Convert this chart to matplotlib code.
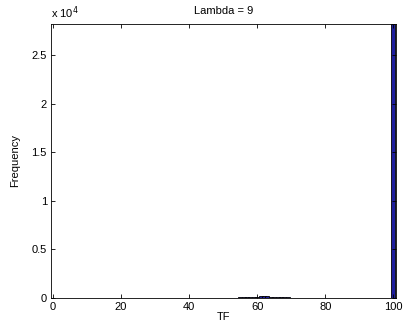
import numpy as np
import matplotlib
matplotlib.use('Agg')
import matplotlib.pyplot as plt

# TF histogram: bin centres and counts
tf_bins = [48, 50, 52, 53, 54, 55, 56, 57, 58, 59, 60, 61, 62, 63, 64, 65, 66, 67, 68, 69, 70, 71, 72, 80, 100]
counts = [10, 15, 20, 30, 40, 55, 70, 90, 110, 130, 150, 160, 170, 165, 150, 140, 120, 100, 80, 60, 45, 30, 20, 10, 28200]
lambda_value = 9

plt.rcParams['font.family'] = ['Liberation Sans', 'DejaVu Sans']
plt.rcParams['font.size'] = 8

fig = plt.figure(figsize=(4.03, 3.34), dpi=100)
ax = fig.add_axes([0.1266, 0.1078, 0.8560, 0.8204])

ax.bar(tf_bins, counts, width=1.2, color='#1f1f9e', edgecolor='black', linewidth=0.6)

ax.set_xlim(-0.6, 100.8)
ax.set_ylim(0, max(counts))
ax.set_xticks(np.arange(0, 101, 20))
ax.set_yticks(np.arange(0, 2.51e4, 0.5e4))
ax.set_yticklabels(['0', '0.5', '1', '1.5', '2', '2.5'])
ax.text(0, 1.01, r'x 10$^{4}$', transform=ax.transAxes, ha='left', va='bottom', fontsize=8)

ax.tick_params(direction='in', top=True, right=True, length=3, width=0.6, pad=3)
for s in ax.spines.values():
    s.set_linewidth(0.6)

ax.set_xlabel('TF', labelpad=0)
ax.set_ylabel('Frequency', labelpad=8)
ax.set_title('Lambda = %d' % lambda_value, fontsize=8, pad=7)

fig.savefig('out.png', dpi=100)
